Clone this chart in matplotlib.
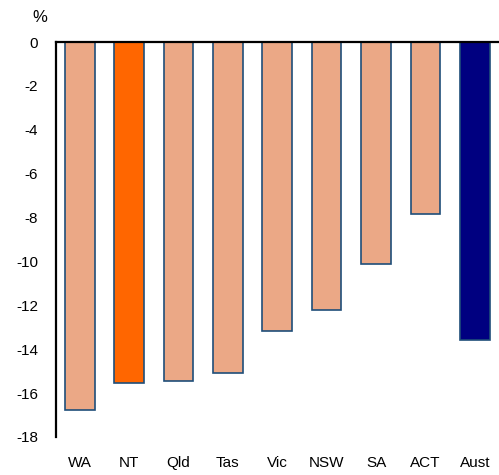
import matplotlib.pyplot as plt

plt.rcParams['font.family'] = ['Liberation Sans', 'DejaVu Sans']

states = ['WA', 'NT', 'Qld', 'Tas', 'Vic', 'NSW', 'SA', 'ACT', 'Aust']
values = [-16.75, -15.55, -15.45, -15.1, -13.15, -12.2, -10.12, -7.85, -13.58]
colors = ['#EBA886', '#FF6600', '#EBA886', '#EBA886', '#EBA886',
          '#EBA886', '#EBA886', '#EBA886', '#000080']

fig = plt.figure(figsize=(4.99, 4.75), dpi=100)
ax = fig.add_axes([56 / 499, 38 / 475, 443 / 499, 395 / 475])

x = range(len(states))
ax.bar(x, values, width=0.6, color=colors, edgecolor='#1F4E79', linewidth=1.2)

ax.set_xlim(-0.48, 8.49)
ax.set_ylim(-18, 0)
ax.set_yticks(range(-18, 1, 2))
ax.set_yticklabels([str(v) for v in range(-18, 1, 2)], fontsize=11)
ax.set_xticks(list(x))
ax.set_xticklabels(states, fontsize=11)
ax.tick_params(axis='both', length=0)
ax.tick_params(axis='y', pad=13)
ax.tick_params(axis='x', pad=14)

for s in ['right', 'bottom']:
    ax.spines[s].set_visible(False)
ax.spines['left'].set_linewidth(1.6)
ax.spines['top'].set_linewidth(1.6)

fig.text(40 / 499, 1 - 17 / 475, '%', fontsize=12, ha='center', va='center')

fig.savefig('out.png', dpi=100)
